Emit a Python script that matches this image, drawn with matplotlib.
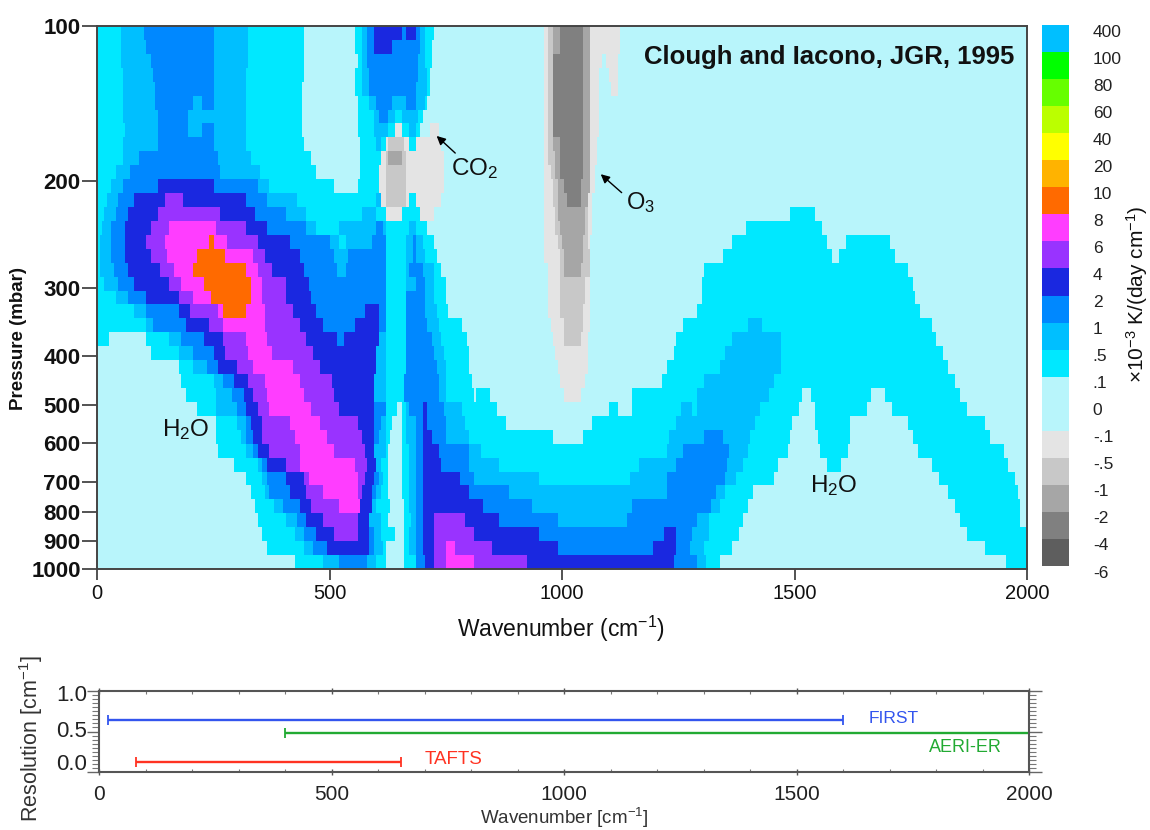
import numpy as np
import matplotlib
matplotlib.use("Agg")
import matplotlib.pyplot as plt
from matplotlib.colors import ListedColormap
from matplotlib.scale import FuncScale
from matplotlib.ticker import FixedLocator, NullLocator

plt.rcParams['font.family'] = ['Liberation Sans', 'DejaVu Sans']
plt.rcParams['mathtext.fontset'] = 'custom'
plt.rcParams['mathtext.rm'] = 'Liberation Sans'
plt.rcParams['mathtext.it'] = 'Liberation Sans'
plt.rcParams['mathtext.bf'] = 'Liberation Sans:bold'
plt.rcParams['mathtext.default'] = 'regular'

# Pressure axis (the source axis is hand-placed, nearly logarithmic)
pressure_ticks = [100, 200, 300, 400, 500, 600, 700, 800, 900, 1000]
pressure_frac = [0.0, 0.2855, 0.4825, 0.607, 0.698, 0.768, 0.84, 0.8945, 0.948, 1.0]
wave_ticks = [0, 500, 1000, 1500, 2000]

# Colour scale
scale_labels = ['400', '100', '80', '60', '40', '20', '10', '8', '6', '4', '2', '1',
                '.5', '.1', '0', '-.1', '-.5', '-1', '-2', '-4', '-6']
band_colors = ['#00bfff', '#00ff00', '#66ff00', '#bbff00', '#ffff00', '#ffb300', '#ff6a00',
               '#ff3dff', '#9933ff', '#1a28e0', '#0088ff', '#00bfff', '#00e8ff', '#b8f5fb',
               '#e4e4e4', '#c8c8c8', '#a6a6a6', '#808080', '#5e5e5e']
band_units = [1, 1, 1, 1, 1, 1, 1, 1, 1, 1, 1, 1, 1, 2, 1, 1, 1, 1, 1]
# Band codes used in the field rows, mapped to band_colors
code_band = {'i': 6, 'h': 7, 'g': 8, 'f': 9, 'e': 10, 'd': 11, 'c': 12, '.': 13,
             'p': 14, 'q': 15, 'r': 16, 's': 17}

# Cooling-rate field classes: rows from 100 to 1000 mbar, each "class + upper wavenumber"
field_rows = [
 "c49 d100 e248 d324 c447 .554 c569 d579 e595 f654 e665 f683 e694 d705 c726 .959 p970 q978 r993 s1046 r1058 p1127 .2000",
 "c49 d103 e248 d324 c447 .554 c569 d579 e597 f633 e693 d703 c719 .959 p970 q978 r993 s1046 r1058 p1125 .2000",
 "c49 d114 e248 d323 c447 .558 c569 d581 e690 d707 c719 .959 p970 q978 r982 s1046 r1058 p1086 .1093 p1120 .2000",
 "c54 d119 e248 d322 c447 .554 c569 d583 e688 d708 c717 .959 p970 q978 r982 s1046 r1058 p1081 .1099 p1120 .2000",
 "c54 d126 e248 d322 c440 .554 c572 d583 e687 d708 c717 .959 p970 q978 r982 s1046 r1058 p1079 .1106 p1118 .2000",
 "c54 d126 e207 d225 e248 d322 c440 .558 c583 d601 e633 d665 e685 d703 c708 .962 p970 q978 r982 s1046 r1058 p1079 .2000",
 "c57 d132 e196 d322 c440 .558 c594 d604 e626 d640 c656 d690 c701 .962 p970 q978 r982 s1046 r1058 p1078 .2000",
 "c59 d132 e196 d225 e248 d322 c440 .558 c597 d626 c642 p654 c672 d683 c694 .715 p735 .962 p970 q978 r982 s1046 r1058 p1078 .2000",
 "c54 d128 e250 d322 c447 .564 c601 d612 c619 p626 q659 p672 c683 p738 .962 p970 q982 r993 s1046 r1058 p1077 .2000",
 "c54 d92 e261 d329 c458 .565 c608 p619 q627 r655 q665 p746 .960 p970 q984 r995 s1046 r1058 p1073 .2000",
 "c39 d71 e264 d350 c472 .565 c606 p619 q665 p746 .962 p973 q984 r996 s1045 r1058 p1072 .2000",
 "c28 d53 e128 f250 e347 d372 c508 .558 c606 p619 q665 p746 .962 p979 q988 r1005 s1041 r1058 p1068 .2000",
 "c22 d46 e82 f144 g187 f322 e364 d429 c601 d608 p619 q665 p672 c683 p740 .962 p979 q991 r1008 s1038 r1056 p1064 .2000",
 "c17 d42 e64 f132 g264 f339 e407 d450 c569 d601 c619 p654 c694 p723 .962 p984 q991 r1048 q1056 p1065 .1488 c1546 .2000",
 "c10 d29 e60 f117 g153 h257 g322 f364 e450 d472 c522 d601 e615 d622 c672 d687 c712 .962 p984 q993 r1048 q1057 p1064 .1395 c1560 .2000",
 "c6 d29 e60 f107 g143 h239 i248 h279 g343 f415 e500 d522 c533 d588 e622 c665 d678 e685 d698 c726 .962 p988 q998 r1045 q1057 p1060 .1367 c1571 .1610 c1705 .2000",
 "c6 d29 e60 f114 g148 h214 i277 h336 g361 f433 e508 d540 e622 c665 d678 e687 d703 c730 .962 p993 q1003 r1046 q1058 .1345 c1581 .1597 c1717 .2000",
 "c6 d35 e67 f135 g164 h207 i322 h347 g375 f443 e515 d536 e622 c665 d672 e698 d723 c741 .968 p993 q1005 r1038 q1058 .1306 c1746 .2000",
 "c14 d46 e82 f157 g178 h228 i332 h354 g407 f454 e622 c665 d683 e705 d723 c748 .970 p993 q1048 p1058 .1299 c1757 .2000",
 "c42 d64 e107 f175 g203 h246 i329 h357 g407 f458 e622 c665 e705 d726 c749 .968 p993 q1048 p1058 .1299 c1760 .2000",
 "c78 d107 e175 f200 g261 h271 i322 h361 g422 f468 e576 f604 e622 c665 e707 d730 c756 .970 p996 q1046 p1058 .1292 c1771 .2000",
 "c103 d121 e189 f239 g268 h361 g433 f486 e554 f604 e619 c665 e712 d733 c787 .977 p1004 q1043 p1058 .1260 c1399 d1431 c1796 .2000",
 "c24 .103 c157 d178 e232 f268 g322 h364 g450 f515 e529 f604 d622 c665 e719 d741 c794 .980 p1007 q1038 p1056 .1245 c1363 d1470 c1807 .2000",
 ".114 c175 d207 e250 f275 g325 h375 g465 f601 d622 c665 e726 d744 c799 .984 p1056 .1238 c1349 d1470 c1818 .2000",
 ".173 c207 d236 e261 f300 g336 h418 g479 f601 d622 c665 e730 d748 c801 .988 p1056 .1227 c1338 d1468 c1828 .2000",
 ".178 c250 d268 e296 f325 g361 h433 g504 f597 d622 c662 e733 d748 c805 .993 p1048 .1214 c1306 d1456 c1843 .2000",
 ".189 c257 d289 e314 f336 g364 h443 g511 f597 d622 c662 e737 d749 c809 .814 c843 .1005 p1041 .1152 c1288 d1445 c1517 .1535 c1664 .1696 c1857 .2000",
 ".214 c257 d300 e322 f347 g372 h458 g522 f597 e622 c644 .654 c665 d672 e698 f708 e744 d787 c859 .1099 c1120 .1152 c1256 d1281 c1290 d1424 c1510 .1544 c1653 .1709 c1869 .2000",
 ".254 c300 d318 e332 f354 g415 h479 g558 f597 e608 d622 c633 .654 c665 d683 e698 f712 e748 d791 c880 .1066 c1245 d1413 c1494 .1546 c1621 .1746 c1911 .2000",
 ".257 c311 d318 e336 f357 g425 h493 g572 f597 e604 d622 c629 .654 c665 d683 e698 f719 e748 d798 c978 .1045 c1231 d1303 e1345 d1406 c1490 .1549 c1619 .1757 c1922 .2000",
 ".261 c322 d336 e347 f368 g433 h511 g576 f597 d619 c626 .654 c672 d683 e698 f733 e801 d823 c1224 d1260 e1358 d1401 c1485 .1553 c1617 .1764 c1950 .2000",
 ".293 c343 d357 e364 f404 g436 h554 g579 f601 d612 c626 .654 c672 d683 e698 f740 e798 d866 c1163 d1245 e1354 d1390 c1467 .1571 c1599 .1796 c1961 .2000",
 ".318 c357 d364 e407 f443 g454 h558 g576 f594 e604 d615 c626 .654 c672 d683 e698 f778 e809 d952 c1145 d1227 e1349 d1377 c1456 .1811 c1975 .2000",
 ".329 c361 d372 e415 f450 g483 h558 g569 f590 e601 d612 c626 .654 c672 d683 e698 f798 e887 d1224 e1328 d1349 c1410 .1828 c1982 .2000",
 ".339 c382 d400 e436 f458 g518 h565 f590 d601 c629 .658 c672 d683 e698 f830 e937 d1152 e1320 d1342 c1399 .1843 c1986 .2000",
 ".347 c407 d429 e450 f486 g558 f583 d608 c626 .662 c675 d686 e698 f726 g791 f866 e988 d1141 e1292 d1317 c1388 .1857 c1987 .2000",
 ".357 c425 d443 e472 f508 g561 f583 e597 d612 c642 .662 c672 d683 e698 f726 g810 f948 e1220 f1245 e1281 d1313 c1381 .1871 c2000",
 ".364 c443 d465 e497 f583 e594 d615 c622 .662 c672 d683 e698 f726 g748 h769 g851 f988 e1195 f1245 e1274 d1306 c1363 .1911 c2000",
 ".425 c486 d518 e579 d601 c622 .662 c683 e705 f726 g748 h812 g927 f1238 e1292 d1310 c1342 .1954 c2000",
]

# Instrument spectral coverage and resolution
instruments = ['FIRST', 'AERI-ER', 'TAFTS']
inst_start = [20, 400, 80]
inst_end = [1600, 2000, 650]
inst_resolution = [0.64, 0.48, 0.12]
inst_colors = ['#3355ee', '#22aa33', '#ff3322']
res_ticks = [0.0, 0.5, 1.0]

W, H = 1150, 830
fig = plt.figure(figsize=(W / 100, H / 100), dpi=100)


def axes_px(left, top, right, bottom):
    return fig.add_axes([left / W, 1 - bottom / H, (right - left) / W, (bottom - top) / H])


log_ticks = np.log10(pressure_ticks)


def p_forward(p):
    return np.interp(np.log10(np.clip(p, 1, None)), log_ticks, pressure_frac)


def p_inverse(f):
    return 10 ** np.interp(f, pressure_frac, log_ticks)


FRAME = '#444444'
TXT = '#111111'

# Main field
ax = axes_px(97.3, 26, 1027, 569)
ax.set_yscale(FuncScale(ax.yaxis, (p_forward, p_inverse)))
x_edges = np.arange(0, 2005, 5)
y_edges = p_inverse(np.linspace(0, 1, len(field_rows) + 1))
y_edges[0], y_edges[-1] = pressure_ticks[0], pressure_ticks[-1]
field = np.zeros((len(field_rows), len(x_edges) - 1))
centers = 0.5 * (x_edges[:-1] + x_edges[1:])
for i, row in enumerate(field_rows):
    lo = 0
    for run in row.split():
        hi = float(run[1:])
        field[i, (centers >= lo) & (centers < hi)] = code_band[run[0]]
        lo = hi
cmap = ListedColormap(band_colors)
ax.pcolormesh(x_edges, y_edges, field, cmap=cmap, vmin=-0.5, vmax=len(band_colors) - 0.5, shading='flat')
ax.set_xlim(0, 2000)
ax.set_ylim(1000, 100)
ax.xaxis.set_major_locator(FixedLocator(wave_ticks))
ax.yaxis.set_major_locator(FixedLocator(pressure_ticks))
ax.yaxis.set_minor_locator(NullLocator())
ax.xaxis.set_minor_locator(NullLocator())
ax.set_yticklabels([str(p) for p in pressure_ticks])
ax.tick_params(axis='x', length=8, width=1.3, color=FRAME, labelsize=14.5, labelcolor=TXT, pad=3)
ax.tick_params(axis='y', length=11, width=1.3, color=FRAME, labelsize=16, labelcolor=TXT, pad=1)
for lab in ax.get_yticklabels():
    lab.set_fontweight('bold')
for s in ax.spines.values():
    s.set_color(FRAME)
    s.set_linewidth(1.4)

ax.set_zorder(2)
ax.text(1972, 115, 'Clough and Iacono, JGR, 1995', ha='right', va='center',
        fontsize=18.5, fontweight='bold', color='#111111')
ax.text(760, 189, 'CO$_2$', fontsize=17.5, va='center', ha='left', color=TXT)
ax.text(1138, 217, 'O$_3$', fontsize=17, va='center', ha='left', color=TXT)
ax.text(140, 562, 'H$_2$O', fontsize=17.5, va='center', ha='left', color=TXT)
ax.text(1534, 710, 'H$_2$O', fontsize=17.5, va='center', ha='left', color=TXT)
arrow = dict(arrowstyle='-|>', color='black', lw=1.0, mutation_scale=13, shrinkA=0, shrinkB=0)
ax.annotate('', xy=(730, 163.5), xytext=(770, 176.5), arrowprops=arrow)
ax.annotate('', xy=(1083, 194), xytext=(1128, 209), arrowprops=arrow)

fig.text(19 / W, 1 - 338 / H, 'Pressure (mbar)', rotation=90, ha='center', va='center',
         fontsize=13.5, color=TXT, fontweight='bold')
fig.text(561 / W, 1 - 629 / H, 'Wavenumber (cm$^{-1}$)', ha='center', va='center', fontsize=16.5, color=TXT)

# Colour key
cax = axes_px(1042, 25, 1069, 566)
unit_edges = np.concatenate(([0], np.cumsum(band_units)))
cax.pcolormesh([0, 1], unit_edges, np.arange(len(band_colors)).reshape(-1, 1), cmap=cmap,
               vmin=-0.5, vmax=len(band_colors) - 0.5, shading='flat')
cax.set_ylim(unit_edges[-1], 0)
cax.set_xlim(0, 1)
cax.axis('off')
for i, lab in enumerate(scale_labels):
    cax.text(1.88, i + 0.26, lab, ha='left', va='center', fontsize=12.5, color='#222222', clip_on=False)
fig.text(1137 / W, 1 - 294 / H, r'$\times$10$^{-3}$ K/(day cm$^{-1}$)', rotation=90, ha='center', va='center',
         fontsize=15, color=TXT)

# Resolution panel
bx = axes_px(99, 691, 1029, 772)
for name, a, b, r, col in zip(instruments, inst_start, inst_end, inst_resolution, inst_colors):
    bx.plot([a, b], [r, r], color=col, lw=1.7, solid_capstyle='butt', clip_on=False)
    bx.plot([a], [r], marker='|', color=col, ms=7, mew=1.3, clip_on=False)
    if b < 2000:
        bx.plot([b], [r], marker='|', color=col, ms=7, mew=1.3, clip_on=False)
bx.text(1655, 0.66, 'FIRST', color=inst_colors[0], fontsize=12.5, va='center', ha='left')
bx.text(1785, 0.30, 'AERI-ER', color=inst_colors[1], fontsize=13, va='center', ha='left')
bx.text(700, 0.15, 'TAFTS', color=inst_colors[2], fontsize=13.5, va='center', ha='left')
bx.set_xlim(0, 2000)
bx.set_ylim(0, 1)
bx.set_xticks(wave_ticks)
bx.set_xticks(np.arange(0, 2001, 100), minor=True)
bx.set_yticks(res_ticks)
bx.set_yticks(np.arange(0, 1.01, 0.05), minor=True)
bx.set_yticklabels([])
for t, yy in zip(res_ticks, [0.09, 0.5, 0.95]):
    bx.text(-0.0125, yy, f'{t:.1f}', transform=bx.get_yaxis_transform(), ha='right', va='center',
            fontsize=16, color='#222222')
bx.tick_params(axis='x', which='major', direction='inout', length=5, width=1.0, color='#555555',
               top=True, labelsize=15, labelcolor='#222222', pad=7)
bx.tick_params(axis='x', which='minor', direction='in', length=2, width=0.8, color='#777777', top=True)
bx.tick_params(axis='y', which='major', direction='out', length=9, width=1.0, color='#666666', right=True)
bx.tick_params(axis='y', which='minor', direction='out', length=5, width=0.8, color='#777777', right=True)
for side, s in bx.spines.items():
    s.set_color('#555555')
    s.set_linewidth(1.5)
fig.text(31 / W, 1 - 739 / H, 'Resolution [cm$^{-1}$]', rotation=90, ha='center', va='center',
         fontsize=15.5, color='#333333')
fig.text(564 / W, 1 - 824 / H, 'Wavenumber [cm$^{-1}$]', ha='center', va='baseline', fontsize=13.5, color='#333333')

fig.savefig('out.png', dpi=100)
